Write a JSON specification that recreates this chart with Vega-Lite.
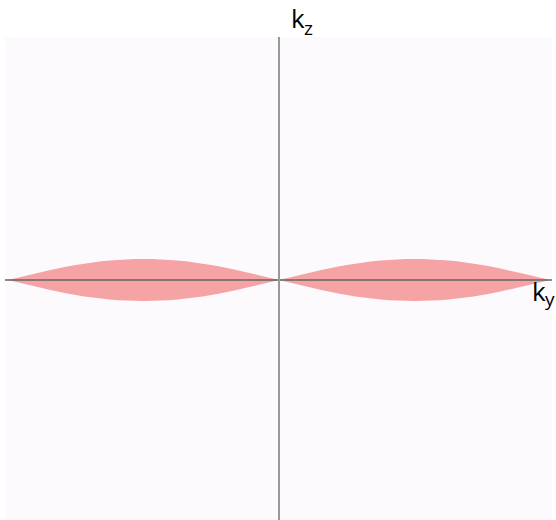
{
  "$schema": "https://vega.github.io/schema/vega-lite/v6.json",
  "width": 547,
  "height": 483,
  "padding": {"left": 5, "top": 37, "right": 4, "bottom": 0},
  "autosize": {"type": "none"},
  "config": {"view": {"fill": "#fdfafd", "stroke": null}},
  "datasets": {
    "lens": [
      {"lens": "left", "ky": -271, "h": 0},
      {"lens": "left", "ky": -254.1, "h": 4.1},
      {"lens": "left", "ky": -237.1, "h": 8.0},
      {"lens": "left", "ky": -220.2, "h": 11.7},
      {"lens": "left", "ky": -203.3, "h": 14.9},
      {"lens": "left", "ky": -186.3, "h": 17.5},
      {"lens": "left", "ky": -169.4, "h": 19.4},
      {"lens": "left", "ky": -152.4, "h": 20.6},
      {"lens": "left", "ky": -135.5, "h": 21},
      {"lens": "left", "ky": -118.6, "h": 20.6},
      {"lens": "left", "ky": -101.6, "h": 19.4},
      {"lens": "left", "ky": -84.7, "h": 17.5},
      {"lens": "left", "ky": -67.8, "h": 14.9},
      {"lens": "left", "ky": -50.8, "h": 11.7},
      {"lens": "left", "ky": -33.9, "h": 8.0},
      {"lens": "left", "ky": -16.9, "h": 4.1},
      {"lens": "left", "ky": 0, "h": 0},
      {"lens": "right", "ky": 0, "h": 0},
      {"lens": "right", "ky": 16.9, "h": 4.1},
      {"lens": "right", "ky": 33.9, "h": 8.0},
      {"lens": "right", "ky": 50.8, "h": 11.7},
      {"lens": "right", "ky": 67.8, "h": 14.9},
      {"lens": "right", "ky": 84.7, "h": 17.5},
      {"lens": "right", "ky": 101.6, "h": 19.4},
      {"lens": "right", "ky": 118.6, "h": 20.6},
      {"lens": "right", "ky": 135.5, "h": 21},
      {"lens": "right", "ky": 152.4, "h": 20.6},
      {"lens": "right", "ky": 169.4, "h": 19.4},
      {"lens": "right", "ky": 186.3, "h": 17.5},
      {"lens": "right", "ky": 203.3, "h": 14.9},
      {"lens": "right", "ky": 220.2, "h": 11.7},
      {"lens": "right", "ky": 237.1, "h": 8.0},
      {"lens": "right", "ky": 254.1, "h": 4.1},
      {"lens": "right", "ky": 271, "h": 0}
    ],
    "labels": [
      {"t": "k", "x": 12, "y": 252, "size": 26},
      {"t": "z", "x": 25, "y": 245, "size": 19},
      {"t": "k", "x": 253, "y": -21, "size": 26},
      {"t": "y", "x": 266, "y": -26, "size": 19}
    ]
  },
  "layer": [
    {
      "data": {"name": "lens"},
      "transform": [{"calculate": "-datum.h", "as": "neg"}],
      "mark": {"type": "area", "color": "#f5a3a5", "opacity": 1, "interpolate": "monotone"},
      "encoding": {
        "x": {"field": "ky", "type": "quantitative", "scale": {"domain": [-274, 273], "nice": false, "zero": false}, "axis": null},
        "y": {"field": "neg", "type": "quantitative", "scale": {"domain": [-240, 243], "nice": false, "zero": false}, "axis": null},
        "y2": {"field": "h"},
        "detail": {"field": "lens"}
      }
    },
    {
      "data": {"values": [{"x1": -274, "x2": 273, "y": 0}]},
      "mark": {"type": "rule", "color": "#666666", "strokeWidth": 1.5},
      "encoding": {
        "x": {"field": "x1", "type": "quantitative"},
        "x2": {"field": "x2"},
        "y": {"field": "y", "type": "quantitative"}
      }
    },
    {
      "data": {"values": [{"x": 0, "y1": -240, "y2": 243}]},
      "mark": {"type": "rule", "color": "#999999", "strokeWidth": 2},
      "encoding": {
        "x": {"field": "x", "type": "quantitative"},
        "y": {"field": "y1", "type": "quantitative"},
        "y2": {"field": "y2"}
      }
    },
    {
      "data": {"name": "labels"},
      "mark": {"type": "text", "align": "left", "baseline": "alphabetic", "font": "Open Sans", "color": "#000000"},
      "encoding": {
        "x": {"field": "x", "type": "quantitative"},
        "y": {"field": "y", "type": "quantitative"},
        "text": {"field": "t"},
        "size": {"field": "size", "type": "quantitative", "scale": null}
      }
    }
  ]
}
